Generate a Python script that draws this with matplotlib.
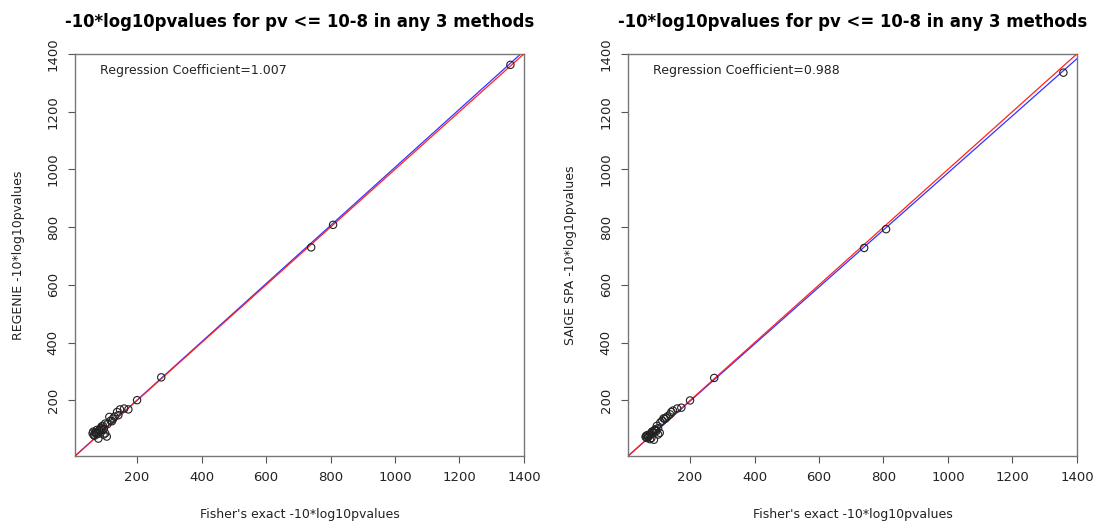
"""
-10*log10 p-value comparison: Fisher's exact vs REGENIE / SAIGE SPA.
"""

import numpy as np
import matplotlib
matplotlib.use("Agg")
import matplotlib.pyplot as plt

# ── Data ──────────────────────────────────────────────────────
fisher = [1358, 808, 740, 275, 200, 173, 160, 147, 142, 138, 126, 122,
          114, 108, 101, 97, 92, 90, 86, 84, 80, 78, 75, 72, 70, 66,
          64, 62, 101, 106, 96, 88, 82, 76, 68, 94, 130, 118]
regenie = [1362, 808, 730, 280, 201, 169, 172, 169, 149, 160, 137, 128,
           143, 118, 120, 102, 98, 110, 94, 100, 68, 84, 98, 88, 90, 80,
           92, 86, 86, 75, 82, 104, 96, 84, 78, 112, 144, 130]
saige = [1335, 793, 728, 278, 200, 175, 172, 165, 160, 152, 140, 136,
         130, 124, 104, 112, 100, 96, 88, 92, 70, 86, 80, 76, 74, 70,
         78, 74, 82, 88, 94, 64, 92, 66, 80, 98, 145, 138]

coef_regenie = 1.007
coef_saige = 0.988

title = "-10*log10pvalues for pv <= 10-8 in any 3 methods"
xlabel = "Fisher's exact -10*log10pvalues"
ylabels = ["REGENIE -10*log10pvalues", "SAIGE SPA -10*log10pvalues"]
ticks = [200, 400, 600, 800, 1000, 1200, 1400]
lims = (7.5, 1400)

fig = plt.figure(figsize=(10.95, 5.23), dpi=100)
axes = [fig.add_axes([0.0685, 0.128, 0.41, 0.769]),
        fig.add_axes([0.5735, 0.128, 0.41, 0.769])]

for ax, yvals, coef, ylab in zip(axes, [regenie, saige],
                                 [coef_regenie, coef_saige], ylabels):
    xs = np.array(lims)
    ax.plot(xs, coef * xs, color="#3333ff", lw=0.9, zorder=2)
    ax.plot(xs, xs, color="#ff2222", lw=0.9, zorder=3)
    ax.scatter(fisher, yvals, s=28, facecolors="none", edgecolors="#222222",
               linewidths=0.8, zorder=4)

    ax.set_xlim(lims)
    ax.set_ylim(lims)
    ax.set_xticks(ticks)
    ax.set_yticks(ticks)
    ax.tick_params(labelsize=9.5, color="#555555", length=5,
                   labelcolor="#222222", pad=6)
    for lab in ax.get_yticklabels():
        lab.set_rotation(90)
        lab.set_va("center")
    for sp in ax.spines.values():
        sp.set_color("#777777")
        sp.set_linewidth(1.0)

    ax.set_title(title, fontsize=11.9, fontweight="bold", pad=19)
    ax.set_xlabel(xlabel, fontsize=9, labelpad=17, color="#222222")
    ax.set_ylabel(ylab, fontsize=9, labelpad=16, color="#222222")
    ax.text(0.056, 0.958, f"Regression Coefficient={coef}",
            transform=ax.transAxes, fontsize=9, va="center", ha="left",
            color="#222222")

plt.savefig("out.png", dpi=100)
plt.close()
